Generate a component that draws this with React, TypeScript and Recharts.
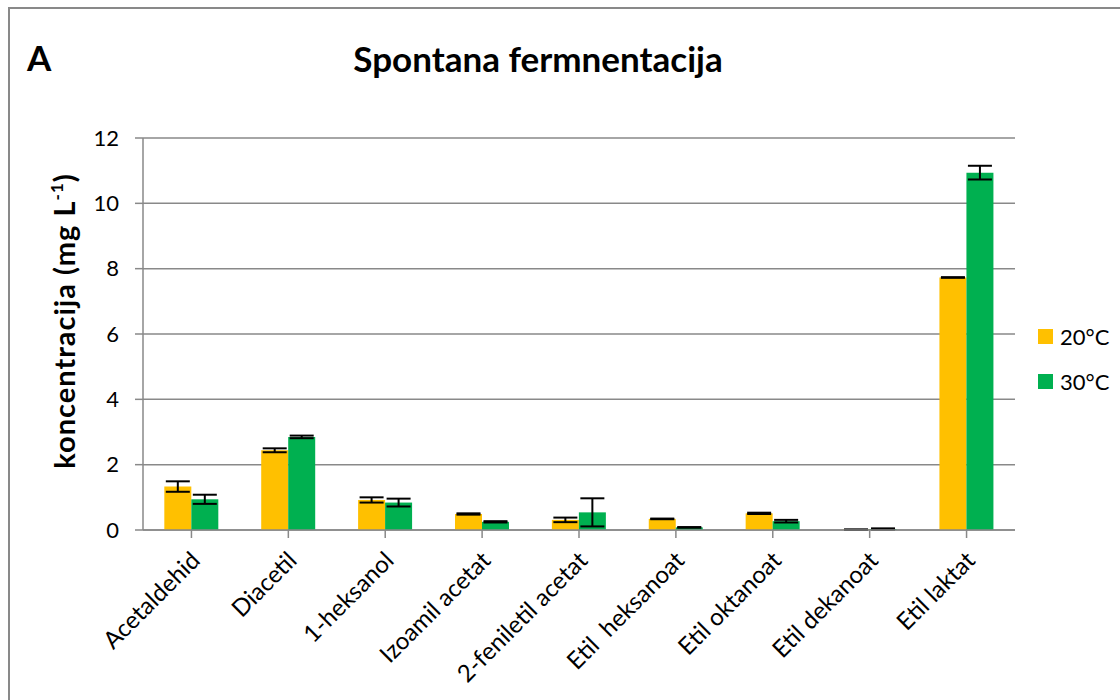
import { Bar, BarChart, CartesianGrid, ErrorBar, XAxis, YAxis } from "recharts";

const compounds = [
  "Acetaldehid",
  "Diacetil",
  "1-heksanol",
  "Izoamil acetat",
  "2-feniletil acetat",
  "Etil  heksanoat",
  "Etil oktanoat",
  "Etil dekanoat",
  "Etil laktat",
];
const t20 = [1.33, 2.44, 0.92, 0.49, 0.31, 0.34, 0.51, 0.01, 7.73];
const t20err = [0.16, 0.06, 0.08, 0.02, 0.07, 0.01, 0.02, 0.01, 0.01];
const t30 = [0.94, 2.85, 0.84, 0.25, 0.54, 0.08, 0.27, 0.03, 10.94];
const t30err = [0.14, 0.04, 0.12, 0.02, 0.43, 0.01, 0.04, 0.02, 0.21];
const yTicks = [0, 2, 4, 6, 8, 10, 12];
const seriesNames = ["20°C", "30°C"];

const YELLOW = "#FFC000";
const GREEN = "#00B050";
const GREY = "#898989";
const FONT = "Lato, 'Open Sans', sans-serif";

const data = compounds.map((name, i) => ({
  name,
  t20: t20[i],
  t20err: t20err[i],
  t30: t30[i],
  t30err: t30err[i],
}));

function XTick(props: any) {
  const { x, y, payload } = props;
  return (
    <g transform={`translate(${x + 10},${y + 22}) rotate(-45)`}>
      <text textAnchor="end" fontSize={24} fill="#000" fontFamily={FONT} style={{ whiteSpace: "pre" }}>
        {payload.value}
      </text>
    </g>
  );
}

function YLabel(props: any) {
  const vb = props.viewBox;
  const cy = vb.y + vb.height / 2 - 13;
  return (
    <text
      transform={`translate(75,${cy}) rotate(-90)`}
      textAnchor="middle"
      fontSize={29}
      fontWeight="bold"
      letterSpacing={1}
      fontFamily={FONT}
      fill="#000"
    >
      koncentracija (mg L
      <tspan fontSize={17} dy={-12}>-1</tspan>
      <tspan dy={12}>)</tspan>
    </text>
  );
}

export default function App() {
  const legendColors = [YELLOW, GREEN];
  return (
    <div style={{ position: "absolute", left: 0, top: 0, width: 1120, height: 700, background: "#fff", overflow: "hidden" }}>
      <BarChart
        width={1120}
        height={700}
        data={data}
        margin={{ top: 138, right: 105, bottom: 10, left: 93 }}
        barCategoryGap="22%"
        barGap={0}
        style={{ position: "absolute", left: 0, top: 0 }}
      >
        <CartesianGrid vertical={false} stroke={GREY} strokeWidth={1.5} />
        <XAxis
          dataKey="name"
          height={160}
          interval={0}
          tickSize={8}
          tick={<XTick />}
          axisLine={{ stroke: GREY, strokeWidth: 1.5 }}
          tickLine={{ stroke: GREY, strokeWidth: 1.5 }}
        />
        <YAxis
          width={50}
          domain={[0, 12]}
          ticks={yTicks}
          tickSize={8}
          tickMargin={16}
          tick={{ fontSize: 22, fill: "#000", fontFamily: FONT }}
          axisLine={{ stroke: GREY, strokeWidth: 1.5 }}
          tickLine={{ stroke: GREY, strokeWidth: 1.5 }}
          label={<YLabel />}
        />
        <Bar dataKey="t20" name={seriesNames[0]} fill={YELLOW} isAnimationActive={false}>
          <ErrorBar dataKey="t20err" width={12} stroke="#000" strokeWidth={2} />
        </Bar>
        <Bar dataKey="t30" name={seriesNames[1]} fill={GREEN} isAnimationActive={false}>
          <ErrorBar dataKey="t30err" width={12} stroke="#000" strokeWidth={2} />
        </Bar>
      </BarChart>
      <svg width={1120} height={700} style={{ position: "absolute", left: 0, top: 0, pointerEvents: "none" }}>
        <rect x={9} y={8} width={1140} height={720} fill="none" stroke={GREY} strokeWidth={2} />
        <text x={27} y={71} fontSize={35} fontWeight="bold" fontFamily={FONT} fill="#000">
          A
        </text>
        <text x={538} y={72} textAnchor="middle" fontSize={35} fontWeight="bold" fontFamily={FONT} fill="#000">
          Spontana fermnentacija
        </text>
        {seriesNames.map((s, i) => (
          <g key={s}>
            <rect x={1038} y={329 + i * 45} width={15} height={15} fill={legendColors[i]} />
            <text x={1060} y={345 + i * 45} fontSize={22} fontFamily={FONT} fill="#000">
              {s}
            </text>
          </g>
        ))}
      </svg>
    </div>
  );
}
